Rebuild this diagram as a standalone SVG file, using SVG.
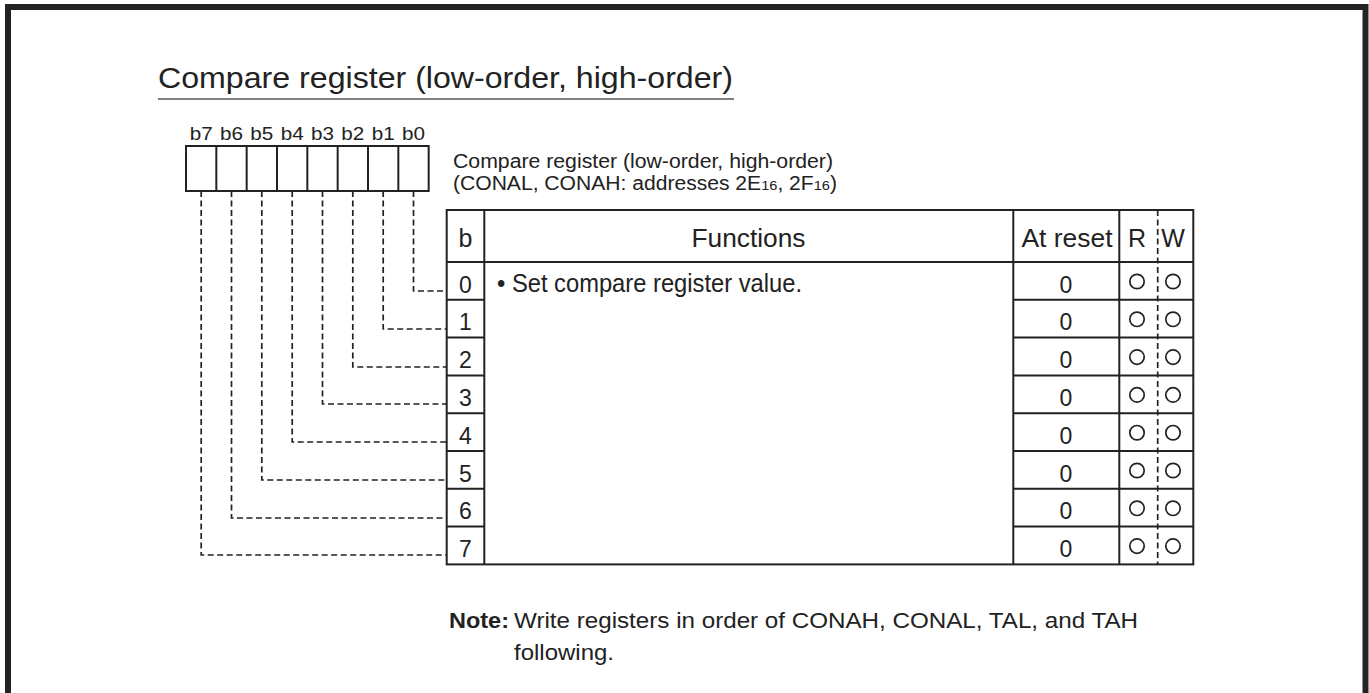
<svg xmlns="http://www.w3.org/2000/svg" width="1369" height="693" viewBox="0 0 1369 693">
<defs>
<style>
text{font-family:"Liberation Sans",Arial,Helvetica,sans-serif;fill:#222;}
.frame{fill:none;stroke:#222;stroke-width:6;}
.cell{fill:#fff;stroke:#222;stroke-width:2;}
.tline{fill:none;stroke:#222;stroke-width:2;}
.dash{fill:none;stroke:#222;stroke-width:1.7;stroke-dasharray:6 3.5;}
.circ{fill:none;stroke:#222;stroke-width:1.7;}
.bit{font-size:19px;text-anchor:middle;}
.hdr{font-size:25px;text-anchor:middle;}
.num{font-size:23px;text-anchor:middle;}
.sub{font-size:19.5px;}
.note{font-size:22px;}
</style>
</defs>
<rect width="1369" height="693" fill="#fff"/>
<rect id="frame" class="frame" x="8" y="7" width="1357.5" height="720"/>

<g id="title">
<text x="158" y="88" font-size="29" textLength="575" lengthAdjust="spacingAndGlyphs">Compare register (low-order, high-order)</text>
<line x1="158" y1="99" x2="734" y2="99" stroke="#555" stroke-width="1.6"/>
</g>

<g id="register">
<rect class="cell" x="186" y="146" width="242.67" height="45"/>
<path class="tline" d="M216.33 146V191M246.67 146V191M277 146V191M307.33 146V191M337.67 146V191M368 146V191M398.33 146V191"/>
<g id="bit-labels">
<text class="bit" x="201.2" y="140" textLength="23" lengthAdjust="spacingAndGlyphs">b7</text>
<text class="bit" x="231.5" y="140" textLength="23" lengthAdjust="spacingAndGlyphs">b6</text>
<text class="bit" x="261.8" y="140" textLength="23" lengthAdjust="spacingAndGlyphs">b5</text>
<text class="bit" x="292.2" y="140" textLength="23" lengthAdjust="spacingAndGlyphs">b4</text>
<text class="bit" x="322.5" y="140" textLength="23" lengthAdjust="spacingAndGlyphs">b3</text>
<text class="bit" x="352.8" y="140" textLength="23" lengthAdjust="spacingAndGlyphs">b2</text>
<text class="bit" x="383.2" y="140" textLength="23" lengthAdjust="spacingAndGlyphs">b1</text>
<text class="bit" x="413.5" y="140" textLength="23" lengthAdjust="spacingAndGlyphs">b0</text>
</g>
</g>

<g id="register-label">
<text class="sub" x="453" y="168" textLength="380" lengthAdjust="spacingAndGlyphs">Compare register (low-order, high-order)</text>
<text class="sub" x="453" y="190" textLength="384" lengthAdjust="spacingAndGlyphs">(CONAL, CONAH: addresses 2E<tspan font-size="13.5">16</tspan>, 2F<tspan font-size="13.5">16</tspan>)</text>
</g>

<g id="connectors">
<path class="dash" d="M413.5 191V291H446.7"/>
<path class="dash" d="M383.2 191V329H446.7"/>
<path class="dash" d="M352.8 191V367H446.7"/>
<path class="dash" d="M322.5 191V404H446.7"/>
<path class="dash" d="M292.2 191V442H446.7"/>
<path class="dash" d="M261.8 191V480H446.7"/>
<path class="dash" d="M231.5 191V518H446.7"/>
<path class="dash" d="M201.2 191V555H446.7"/>
</g>

<g id="table">
<rect class="tline" x="446.7" y="210" width="746.6" height="354.4"/>
<path class="tline" d="M484.3 210V564.4M1013.3 210V564.4M1119.3 210V564.4"/>
<path class="tline" d="M446.7 262H1193.3M446.7 299.8H484.3M1013.3 299.8H1193.3M446.7 337.6H484.3M1013.3 337.6H1193.3M446.7 375.4H484.3M1013.3 375.4H1193.3M446.7 413.2H484.3M1013.3 413.2H1193.3M446.7 451H484.3M1013.3 451H1193.3M446.7 488.8H484.3M1013.3 488.8H1193.3M446.7 526.6H484.3M1013.3 526.6H1193.3"/>
<line class="dash" x1="1157.7" y1="210" x2="1157.7" y2="564.4" stroke-width="1.4"/>
<g id="header">
<text class="hdr" x="465.5" y="247">b</text>
<text class="hdr" x="748.5" y="247" textLength="114" lengthAdjust="spacingAndGlyphs">Functions</text>
<text class="hdr" x="1067" y="247" textLength="91" lengthAdjust="spacingAndGlyphs">At reset</text>
<text class="hdr" x="1137" y="247">R</text>
<text class="hdr" x="1173" y="247">W</text>
</g>
<g id="row-b0">
<text class="num" x="465.5" y="292.5">0</text>
<text x="497" y="292" font-size="25" textLength="305" lengthAdjust="spacingAndGlyphs">• Set compare register value.</text>
<text class="num" x="1066" y="292.5">0</text>
<circle class="circ" cx="1137" cy="281.5" r="7.2"/><circle class="circ" cx="1173" cy="281.5" r="7.2"/>
</g>
<g id="row-b1">
<text class="num" x="465.5" y="330.3">1</text>
<text class="num" x="1066" y="330.3">0</text>
<circle class="circ" cx="1137" cy="319.3" r="7.2"/><circle class="circ" cx="1173" cy="319.3" r="7.2"/>
</g>
<g id="row-b2">
<text class="num" x="465.5" y="368.1">2</text>
<text class="num" x="1066" y="368.1">0</text>
<circle class="circ" cx="1137" cy="357.1" r="7.2"/><circle class="circ" cx="1173" cy="357.1" r="7.2"/>
</g>
<g id="row-b3">
<text class="num" x="465.5" y="405.9">3</text>
<text class="num" x="1066" y="405.9">0</text>
<circle class="circ" cx="1137" cy="394.9" r="7.2"/><circle class="circ" cx="1173" cy="394.9" r="7.2"/>
</g>
<g id="row-b4">
<text class="num" x="465.5" y="443.7">4</text>
<text class="num" x="1066" y="443.7">0</text>
<circle class="circ" cx="1137" cy="432.7" r="7.2"/><circle class="circ" cx="1173" cy="432.7" r="7.2"/>
</g>
<g id="row-b5">
<text class="num" x="465.5" y="481.5">5</text>
<text class="num" x="1066" y="481.5">0</text>
<circle class="circ" cx="1137" cy="470.5" r="7.2"/><circle class="circ" cx="1173" cy="470.5" r="7.2"/>
</g>
<g id="row-b6">
<text class="num" x="465.5" y="519.3">6</text>
<text class="num" x="1066" y="519.3">0</text>
<circle class="circ" cx="1137" cy="508.3" r="7.2"/><circle class="circ" cx="1173" cy="508.3" r="7.2"/>
</g>
<g id="row-b7">
<text class="num" x="465.5" y="557.1">7</text>
<text class="num" x="1066" y="557.1">0</text>
<circle class="circ" cx="1137" cy="546.1" r="7.2"/><circle class="circ" cx="1173" cy="546.1" r="7.2"/>
</g>
</g>

<g id="note">
<text class="note" x="449" y="628" font-weight="bold" textLength="60" lengthAdjust="spacingAndGlyphs">Note:</text>
<text class="note" x="514" y="628" textLength="624" lengthAdjust="spacingAndGlyphs">Write registers in order of CONAH, CONAL, TAL, and TAH</text>
<text class="note" x="514" y="660" textLength="100" lengthAdjust="spacingAndGlyphs">following.</text>
</g>
</svg>
